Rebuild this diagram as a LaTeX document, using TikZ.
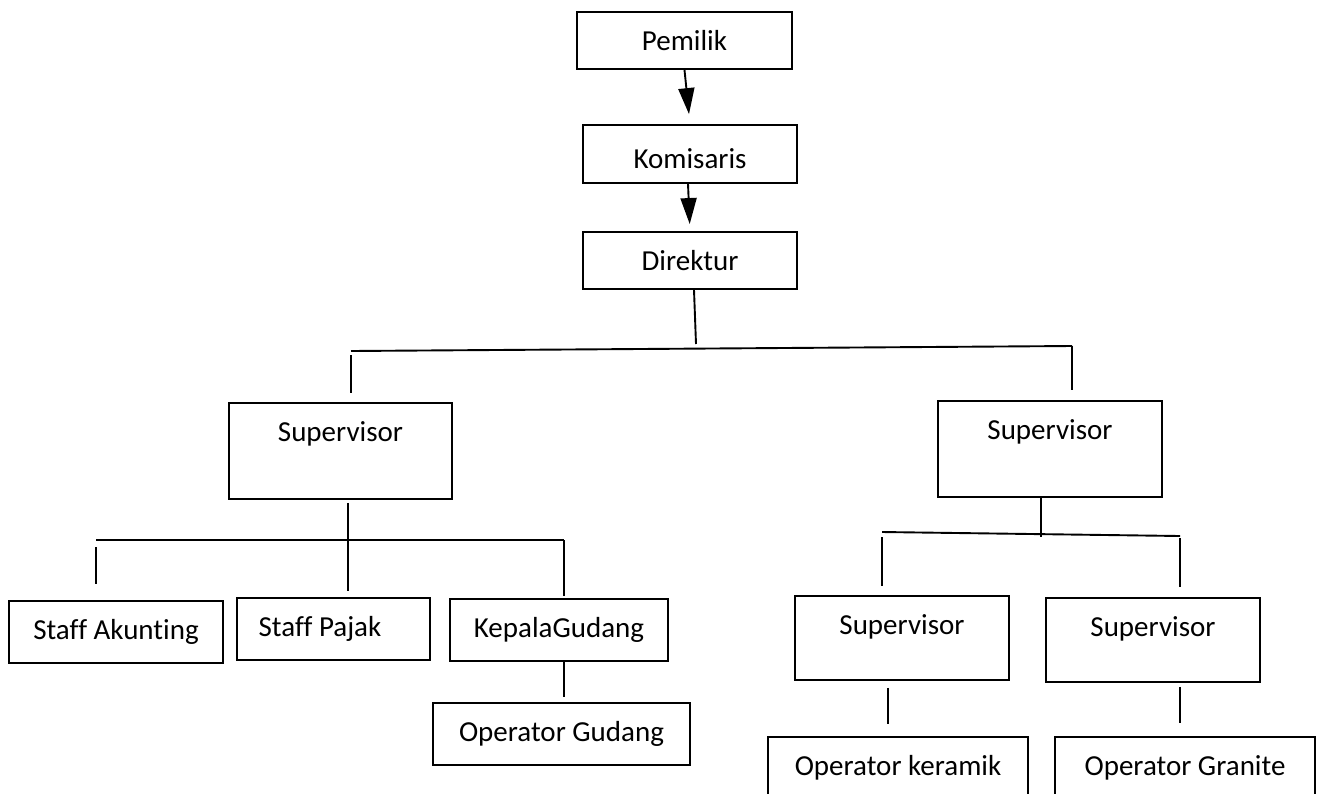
\documentclass[tikz,border=0pt]{standalone}
\usepackage{fontspec}
\setmainfont{Carlito}[Ligatures=NoCommon]
\usetikzlibrary{arrows.meta,calc}

\begin{document}
\begin{tikzpicture}[x=1pt, y=-1pt, line width=1.9pt,
  box/.style={draw, rectangle, inner sep=0pt, minimum height=62pt, font=\fontsize{29}{35}\selectfont},
  supbox/.style={draw, rectangle, inner sep=0pt, minimum width=#1,
    label={[anchor=base, yshift=-39pt, inner sep=0pt, font=\fontsize{29}{35}\selectfont]north:Supervisor}},
  arr/.style={-{Triangle[length=26pt, width=16pt]}}]
\useasboundingbox (0,0) rectangle (1319,793);
\clip (0,0) rectangle (1319,793);

% top of the chart
\node[box, minimum width=215pt, minimum height=57pt] (pemilik) at (684.5,40.5) {Pemilik};
\node[box, minimum width=214pt, minimum height=58pt, text height=28pt, text depth=0pt] (komisaris) at (690,154) {Komisaris};
\node[box, minimum width=214pt, minimum height=57pt] (direktur) at (690,260.5) {Direktur};

\draw[arr, shorten >=10pt] (pemilik.south) -- (komisaris.north);
\draw[arr, shorten >=7pt] ([xshift=-2pt]komisaris.south) -- (direktur.north);

% the two supervisors
\node[supbox=223pt, minimum height=96pt] (supL) at (340.5,451) {};
\node[supbox=224pt, minimum height=96pt] (supR) at (1050,449) {};

\coordinate (jTop) at (696,344);
\coordinate (barA) at (351,351);
\coordinate (barB) at (1072,346);
\draw ([xshift=4pt]direktur.south) -- (jTop);
\draw (barA) -- (barB);
\draw[shorten <=4pt, shorten >=9pt] (barA) -- (barA |- supL.north);
\draw[shorten >=10pt] (barB) -- (barB |- supR.north);

% left branch
\node[box, minimum width=214pt] (akunting) at (116,632) {Staff Akunting};
\node[box, minimum width=193pt] (pajak) at (333.5,629) {Staff Pajak\hspace*{27pt}};
\node[box, minimum width=218pt] (kepala) at (559,630) {KepalaGudang};
\node[box, minimum width=257pt] (opgudang) at (561.5,734) {Operator Gudang};

\coordinate (stemL) at (348,591);
\coordinate (barLa) at (96,540);
\coordinate (barLb) at (564,540);
\draw[shorten <=3pt] (stemL |- supL.south) -- (stemL);
\draw (barLa) -- (barLb);
\draw[shorten <=7pt, shorten >=16pt] (barLa) -- (barLa |- akunting.north);
\draw[shorten >=2pt] (barLb) -- (barLb |- kepala.north);
\draw[shorten >=5pt] (barLb |- kepala.south) -- (barLb |- opgudang.north);

% right branch
\node[supbox=214pt, minimum height=84pt] (supRL) at (902,638) {};
\node[supbox=214pt, minimum height=84pt] (supRR) at (1153,640) {};
\node[box, minimum width=260pt] (keramik) at (898,768) {Operator keramik};
\node[box, minimum width=260pt] (granite) at (1185,768) {Operator Granite};

\coordinate (stemR) at (1041,537);
\coordinate (barRa) at (882,532);
\coordinate (barRb) at (1180,536);
\coordinate (stemRL) at (888,0);
\draw (stemR |- supR.south) -- (stemR);
\draw (barRa) -- (barRb);
\draw[shorten <=5pt, shorten >=9pt] (barRa) -- (barRa |- supRL.north);
\draw[shorten <=2pt, shorten >=10pt] (barRb) -- (barRb |- supRR.north);
\draw[shorten <=7pt, shorten >=12pt] (stemRL |- supRL.south) -- (stemRL |- keramik.north);
\draw[shorten <=4pt, shorten >=13pt] (barRb |- supRR.south) -- (barRb |- granite.north);
\end{tikzpicture}
\end{document}
